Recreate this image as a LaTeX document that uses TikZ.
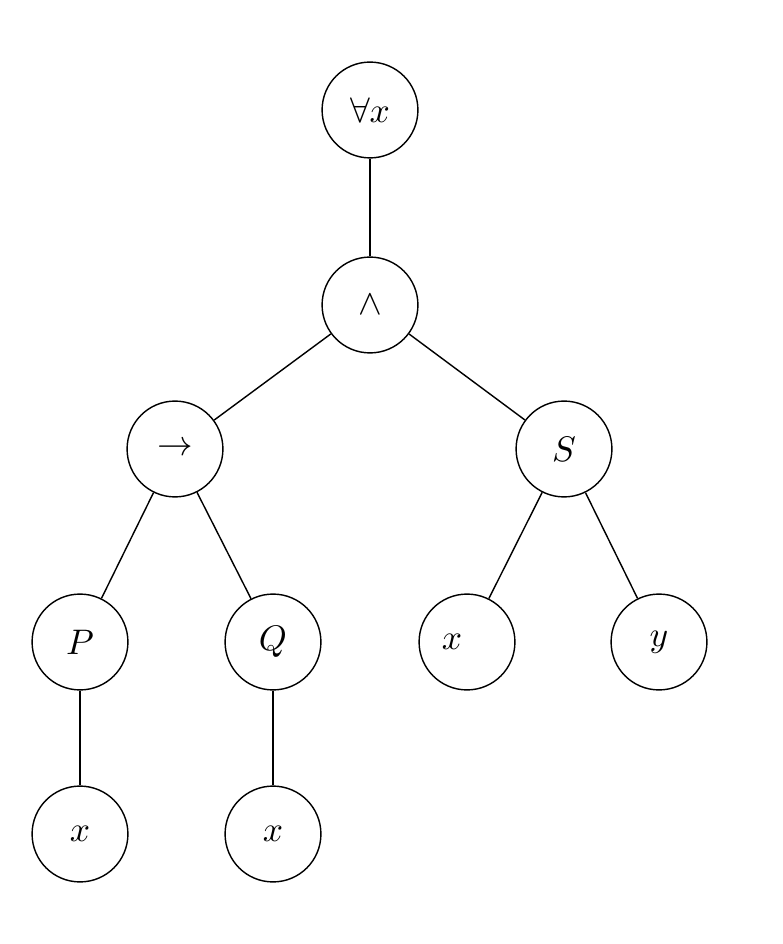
\documentclass[tikz,border=0pt]{standalone}
\begin{document}
\begin{tikzpicture}[x=0.2817pt,y=-0.2817pt,
  tnode/.style={circle,draw=black,line width=0.4pt,minimum size=27pt,inner sep=0pt},
  tedge/.style={draw=black,line width=0.4pt}]
\useasboundingbox (0,0) rectangle (782,944);
\node[tnode] (A) at (370,110) {$\forall x$};
\node[tnode] (B) at (370,305) {$\wedge$};
\node[tnode] (C) at (175,449) {$\rightarrow$};
\node[tnode] (D) at (564,449) {$S$};
\node[tnode] (E) at (80,642) {$P$};
\node[tnode] (F) at (273,642) {$Q$};
\node[tnode] (G) at (467,642) {$x$\hspace*{8.5pt}};
\node[tnode] (H) at (659,642) {$y$};
\node[tnode] (I) at (80,834) {$x$};
\node[tnode] (J) at (273,834) {$x$};
\path[tedge] (A) -- (B);
\path[tedge] (B) -- (C);
\path[tedge] (B) -- (D);
\path[tedge] (C) -- (E);
\path[tedge] (C) -- (F);
\path[tedge] (D) -- (G);
\path[tedge] (D) -- (H);
\path[tedge] (E) -- (I);
\path[tedge] (F) -- (J);
\end{tikzpicture}
\end{document}
